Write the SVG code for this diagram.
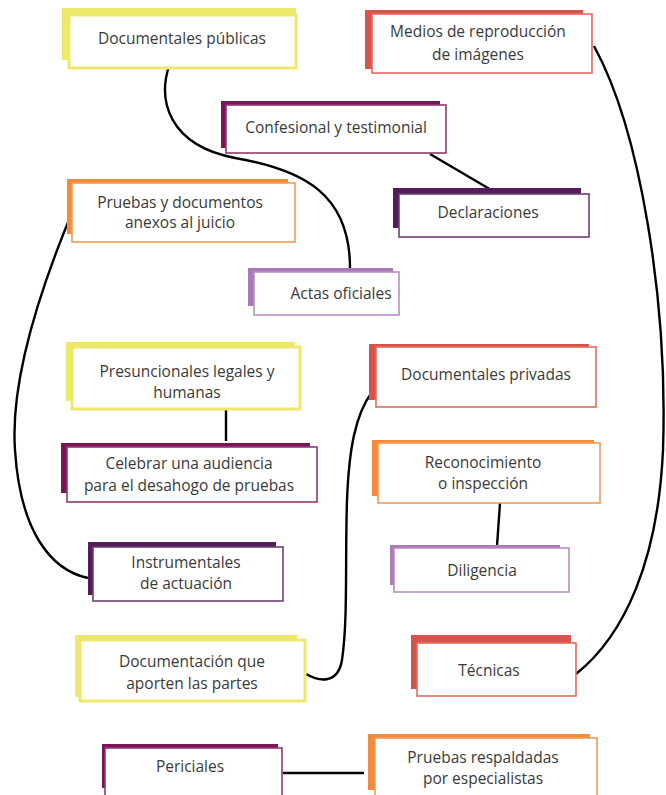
<svg xmlns="http://www.w3.org/2000/svg" width="666" height="795" viewBox="0 0 666 795">
<style>
.t{font-family:"Open Sans","Noto Sans",sans-serif;font-size:15.5px;fill:#3a3a3a;text-anchor:middle}
.box{fill:#fff;stroke-width:1.6}
.yel .sh{fill:#eee86b}.yel .box{stroke:#eee86b;stroke-width:3}
.red .sh{fill:#d9534a}.red .box{stroke:#e36a5f}
.mag .sh{fill:#7a1557}.mag .box{stroke:#8d3a73}
.pur .sh{fill:#541c59}.pur .box{stroke:#6e3e73}
.lav .sh{fill:#ab7ab6}.lav .box{stroke:#b690c0}
.ora .sh{fill:#f28b3c}.ora .box{stroke:#f39a55}
.c{fill:none;stroke:#000;stroke-width:2.4}
</style>
<g id="connectors">
<path class="c" d="M169,66 C158,100 168,145 235,158 C305,170 350,195 350,268"/>
<path class="c" d="M430,154 L493,191"/>
<path class="c" d="M594,46 C640,130 668,300 663,450 C658,560 625,635 576,674"/>
<path class="c" d="M71,215 C40,290 10,380 15,450 C20,530 50,570 88,578"/>
<path class="c" d="M226,409 L226,441"/>
<path class="c" d="M306,674 C320,682 338,684 342,660 C348,620 345,560 347,500 C349,450 355,415 372,392"/>
<path class="c" d="M500,503 L497,546"/>
<path class="c" d="M283,773 L364,773"/>
</g>
<g id="n1" class="yel"><rect class="sh" x="62" y="8" width="234" height="52"/><rect class="box" x="69" y="15" width="227" height="53"/><text class="t" x="182" y="43.5">Documentales públicas</text></g>
<g id="n2" class="red"><rect class="sh" x="365" y="10" width="218" height="59"/><rect class="box" x="372" y="14" width="220" height="59"/><text class="t" x="478" y="36.5">Medios de reproducción</text><text class="t" x="478" y="59.5">de imágenes</text></g>
<g id="n3" class="mag"><rect class="sh" x="221" y="101" width="219" height="47"/><rect class="box" x="226" y="105" width="220" height="48"/><text class="t" x="336" y="132.5">Confesional y testimonial</text></g>
<g id="n4" class="pur"><rect class="sh" x="393" y="188" width="188" height="40"/><rect class="box" x="399" y="194" width="190" height="43"/><text class="t" x="488" y="217.5">Declaraciones</text></g>
<g id="n5" class="ora"><rect class="sh" x="67" y="179" width="221" height="55"/><rect class="box" x="72" y="183" width="223" height="59"/><text class="t" x="180" y="207.5">Pruebas y documentos</text><text class="t" x="180" y="227.5">anexos al juicio</text></g>
<g id="n6" class="lav"><rect class="sh" x="248" y="268" width="145" height="38"/><rect class="box" x="254" y="272" width="145" height="43"/><text class="t" x="341" y="298.5">Actas oficiales</text></g>
<g id="n7" class="yel"><rect class="sh" x="66" y="342" width="229" height="59"/><rect class="box" x="72" y="347" width="228" height="62"/><text class="t" x="187" y="376.5">Presuncionales legales y</text><text class="t" x="187" y="397.5">humanas</text></g>
<g id="n8" class="mag"><rect class="sh" x="61" y="443" width="249" height="50"/><rect class="box" x="67" y="447" width="250" height="55"/><text class="t" x="189" y="468.5">Celebrar una audiencia</text><text class="t" x="189" y="490.5">para el desahogo de pruebas</text></g>
<g id="n9" class="red"><rect class="sh" x="369" y="344" width="220" height="56"/><rect class="box" x="376" y="347" width="220" height="60"/><text class="t" x="486" y="379.5">Documentales privadas</text></g>
<g id="n10" class="ora"><rect class="sh" x="372" y="440" width="222" height="56"/><rect class="box" x="378" y="443" width="222" height="60"/><text class="t" x="483" y="467.5">Reconocimiento</text><text class="t" x="483" y="488.5">o inspección</text></g>
<g id="n11" class="lav"><rect class="sh" x="390" y="545" width="170" height="40"/><rect class="box" x="394" y="548" width="175" height="44"/><text class="t" x="482" y="575.5">Diligencia</text></g>
<g id="n12" class="red"><rect class="sh" x="411" y="635" width="160" height="54"/><rect class="box" x="417" y="643" width="159" height="53"/><text class="t" x="489" y="675.5">Técnicas</text></g>
<g id="n13" class="pur"><rect class="sh" x="88" y="542" width="188" height="53"/><rect class="box" x="93" y="547" width="190" height="54"/><text class="t" x="186" y="567.5">Instrumentales</text><text class="t" x="186" y="588.5">de actuación</text></g>
<g id="n14" class="yel"><rect class="sh" x="75" y="635" width="222" height="62"/><rect class="box" x="80" y="640" width="225" height="61"/><text class="t" x="192" y="666.5">Documentación que</text><text class="t" x="192" y="688.5">aporten las partes</text></g>
<g id="n15" class="mag"><rect class="sh" x="102" y="744" width="176" height="44"/><rect class="box" x="105" y="748" width="177" height="50"/><text class="t" x="190" y="771.5">Periciales</text></g>
<g id="n16" class="ora"><rect class="sh" x="368" y="734" width="222" height="56"/><rect class="box" x="375" y="738" width="222" height="60"/><text class="t" x="483" y="762.5">Pruebas respaldadas</text><text class="t" x="483" y="783.5">por especialistas</text></g>
</svg>
